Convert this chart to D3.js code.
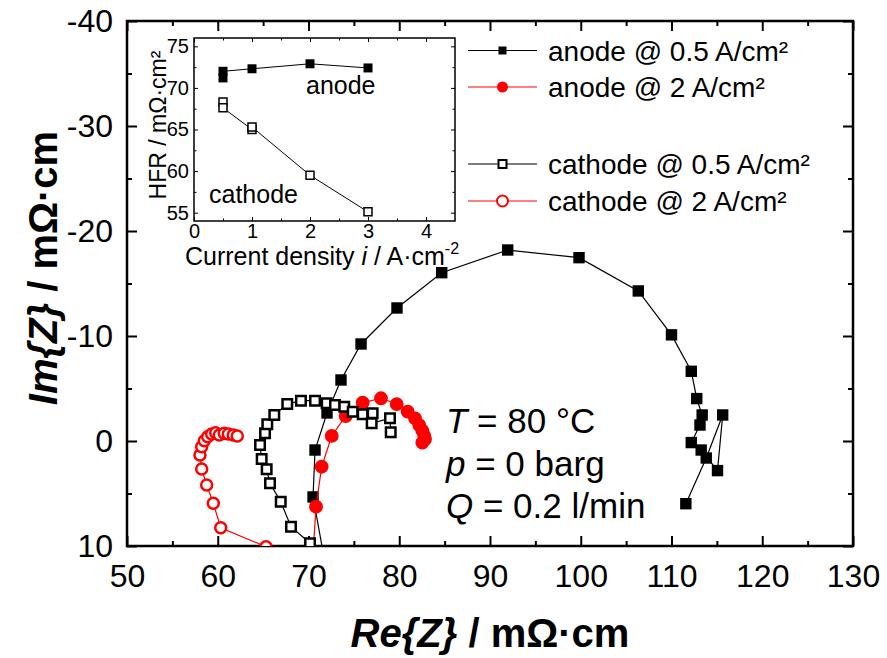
<!DOCTYPE html>
<html lang="en">
<head>
<meta charset="UTF-8">
<title>Impedance spectra</title>
<script src="https://cdn.jsdelivr.net/npm/d3@7/dist/d3.min.js"></script>
<style>
  body { margin: 0; background: #fff; }
  svg text { font-family: "Liberation Sans", Arial, sans-serif; fill: #000; }
</style>
</head>
<body>
<div id="chart"></div>
<script>
// Nyquist data, [Re, Im] in mOhm*cm (Im axis runs -40 at the top to 10 at the bottom)
const anode05 = [
  [71.8, 11.5], [70.5, 5.33], [70.72, 0.86], [72.04, -2.67], [73.58, -5.81], [75.79, -9.24],
  [79.75, -12.67], [84.68, -16.03], [91.95, -18.19], [99.81, -17.46], [106.34, -14.29],
  [110.0, -10.11], [112.18, -6.64], [112.78, -4.04], [113.38, -2.48], [113.14, -1.52],
  [112.18, 0.15], [113.27, 0.86], [115.07, 2.82], [115.64, -2.48], [113.83, 1.62], [111.58, 5.97]
];
const anode2 = [
  [70.4, 12], [70.83, 6.26], [71.45, 2.45], [72.56, -0.48], [74.1, -2.38], [75.97, -3.65],
  [77.99, -4.07], [79.72, -3.52], [80.93, -2.79], [81.74, -2.16], [82.21, -1.52],
  [82.54, -0.98], [82.76, -0.48], [82.84, -0.16], [82.54, 0.16]
];
const cathode05 = [
  [70.17, 9.74], [68.07, 8.16], [66.94, 5.78], [65.76, 4.03], [65.39, 2.70], [64.84, 1.71],
  [64.66, 0.38], [65.21, -0.73], [65.46, -1.59], [66.23, -2.48], [67.66, -3.52], [69.17, -3.84],
  [70.72, -3.84], [72.0, -3.59], [72.92, -3.43], [73.94, -3.27], [74.87, -2.79], [75.97, -2.54],
  [77.07, -2.64], [76.96, -1.69], [78.98, -2.16], [79.06, -0.83]
];
const cathode2 = [
  [65.32, 10.07], [60.33, 8.26], [59.51, 5.93], [58.78, 4.19], [58.23, 2.67], [58.04, 1.33],
  [58.23, 0.54], [58.52, -0.03], [58.89, -0.41], [59.33, -0.67], [59.77, -0.79], [60.17, -0.57],
  [60.72, -0.73], [61.16, -0.67], [61.71, -0.57], [62.15, -0.48]
];

// inset: HFR vs current density
const hfrAnode = [[0.5, 71.2], [0.5, 72.0], [1, 72.3], [2, 72.9], [3, 72.4]];
const hfrCathode = [[0.5, 68.3], [0.5, 67.6], [1, 65.0], [1, 65.3], [2, 59.5], [3, 55.1]];

const xTicks = [50, 60, 70, 80, 90, 100, 110, 120, 130];
const yTicks = [-40, -30, -20, -10, 0, 10];
const insetXTicks = [0, 1, 2, 3, 4];
const insetYTicks = [55, 60, 65, 70, 75];

const legendLabels = ["anode @ 0.5 A/cm²", "anode @ 2 A/cm²", "cathode @ 0.5 A/cm²", "cathode @ 2 A/cm²"];
const condText = [["T", " = 80 °C"], ["p", " = 0 barg"], ["Q", " = 0.2 l/min"]];

const width = 887, height = 658;
const L = 127, R = 853, T = 21, B = 546;
const plain = d => String(d);   // hyphen minus like the original, no unicode minus

const svg = d3.select("#chart").append("svg")
    .attr("width", width)
    .attr("height", height);

const x = d3.scaleLinear([50, 130], [L, R]);
const y = d3.scaleLinear([10, -40], [B, T]);

svg.append("clipPath").attr("id", "plotclip")
  .append("rect").attr("x", L).attr("y", T).attr("width", R - L).attr("height", B - T);

// axes, ticks pointing inward
function minor(ticks, step) {
  const out = [];
  for (let i = 0; i < ticks.length - 1; i++) out.push(ticks[i] + step);
  return out;
}
const xMinor = minor(xTicks, 5);
const yMinor = minor(yTicks, 5);

function addAxis(g, axis) {
  g.call(axis);
  g.select(".domain").remove();
  g.selectAll(".tick line").attr("stroke", "#000").attr("stroke-width", 2);
  return g;
}

addAxis(svg.append("g").attr("transform", `translate(0,${B})`),
  d3.axisBottom(x).tickValues(xTicks).tickSize(-10).tickPadding(18).tickFormat(plain))
  .selectAll("text").attr("font-size", 32);
addAxis(svg.append("g").attr("transform", `translate(0,${B})`),
  d3.axisBottom(x).tickValues(xMinor).tickSize(-5).tickFormat(""));
addAxis(svg.append("g").attr("transform", `translate(0,${T})`),
  d3.axisTop(x).tickValues(xTicks).tickSize(-10).tickFormat(""));
addAxis(svg.append("g").attr("transform", `translate(0,${T})`),
  d3.axisTop(x).tickValues(xMinor).tickSize(-5).tickFormat(""));

addAxis(svg.append("g").attr("transform", `translate(${L},0)`),
  d3.axisLeft(y).tickValues(yTicks).tickSize(-10).tickPadding(14).tickFormat(plain))
  .selectAll("text").attr("font-size", 32);
addAxis(svg.append("g").attr("transform", `translate(${L},0)`),
  d3.axisLeft(y).tickValues(yMinor).tickSize(-5).tickFormat(""));
addAxis(svg.append("g").attr("transform", `translate(${R},0)`),
  d3.axisRight(y).tickValues(yTicks).tickSize(-10).tickFormat(""));
addAxis(svg.append("g").attr("transform", `translate(${R},0)`),
  d3.axisRight(y).tickValues(yMinor).tickSize(-5).tickFormat(""));

svg.append("rect")
  .attr("x", L).attr("y", T).attr("width", R - L).attr("height", B - T)
  .attr("fill", "none").attr("stroke", "#000").attr("stroke-width", 2.5);

// axis titles
const xt = svg.append("text")
  .attr("x", 490).attr("y", 647)
  .attr("text-anchor", "middle")
  .attr("font-size", 40).attr("font-weight", "bold");
xt.append("tspan").attr("font-style", "italic").text("Re{Z}");
xt.append("tspan").text(" / mΩ·cm");

const yt = svg.append("text")
  .attr("transform", "translate(57,268) rotate(-90)")
  .attr("text-anchor", "middle")
  .attr("font-size", 40).attr("font-weight", "bold");
yt.append("tspan").attr("font-style", "italic").text("Im{Z}");
yt.append("tspan").text(" / mΩ·cm");

// series
const series = [
  { data: anode05, color: "#000", shape: d3.symbolSquare, size: 130, filled: true },
  { data: anode2, color: "#ff0000", shape: d3.symbolCircle, size: 150, filled: true },
  { data: cathode05, color: "#000", shape: d3.symbolSquare, size: 90, filled: false },
  { data: cathode2, color: "#ff0000", shape: d3.symbolCircle, size: 95, filled: false }
];

const line = d3.line().x(d => x(d[0])).y(d => y(d[1]));
const plot = svg.append("g").attr("clip-path", "url(#plotclip)");

series.forEach(s => {
  plot.append("path")
    .attr("d", line(s.data))
    .attr("fill", "none")
    .attr("stroke", s.color)
    .attr("stroke-width", 1.2);
  plot.append("g").selectAll("path")
    .data(s.data)
    .join("path")
    .attr("transform", d => `translate(${x(d[0])},${y(d[1])})`)
    .attr("d", d3.symbol(s.shape, s.size))
    .attr("fill", s.filled ? s.color : "#fff")
    .attr("stroke", s.color)
    .attr("stroke-width", s.filled ? 0 : 2.5);
});

// legend
const legendY = [50.5, 87, 164, 201];
const legend = svg.append("g");
series.forEach((s, i) => {
  const g = legend.append("g").attr("transform", `translate(0,${legendY[i]})`);
  g.append("line").attr("x1", 468).attr("x2", 537)
    .attr("stroke", s.color).attr("stroke-width", 1.2);
  g.append("path")
    .attr("transform", "translate(502.5,0)")
    .attr("d", d3.symbol(s.shape, s.shape === d3.symbolSquare ? 64 : 95))
    .attr("fill", s.filled ? s.color : "#fff")
    .attr("stroke", s.color)
    .attr("stroke-width", s.filled ? 0 : 2);
  g.append("text").attr("x", 548).attr("y", 10)
    .attr("font-size", 28).text(legendLabels[i]);
});

// operating conditions
const condY = [433, 476, 518];
condText.forEach((c, i) => {
  const t = svg.append("text").attr("x", 446).attr("y", condY[i]).attr("font-size", 35);
  t.append("tspan").attr("font-style", "italic").text(c[0]);
  t.append("tspan").text(c[1]);
});

// inset
const IL = 194, IR = 455, IT = 38, IB = 221;
const ix = d3.scaleLinear([0, 4.5], [IL, IR]);
const iy = d3.scaleLinear([54, 76], [IB, IT]);
const inset = svg.append("g");

inset.append("rect")
  .attr("x", IL).attr("y", IT).attr("width", IR - IL).attr("height", IB - IT)
  .attr("fill", "#fff");

const ixMinor = [0.5, 1.5, 2.5, 3.5];
const iyMinor = [57.5, 62.5, 67.5, 72.5];

function smallAxis(g, axis) {
  g.call(axis);
  g.select(".domain").remove();
  g.selectAll(".tick line").attr("stroke", "#000").attr("stroke-width", 1);
  g.selectAll("text").attr("font-size", 20);
  return g;
}
smallAxis(inset.append("g").attr("transform", `translate(0,${IB})`),
  d3.axisBottom(ix).tickValues(insetXTicks).tickSize(-4).tickPadding(3).tickFormat(plain));
smallAxis(inset.append("g").attr("transform", `translate(0,${IB})`),
  d3.axisBottom(ix).tickValues(ixMinor).tickSize(-2.5).tickFormat(""));
smallAxis(inset.append("g").attr("transform", `translate(0,${IT})`),
  d3.axisTop(ix).tickValues(insetXTicks).tickSize(-4).tickFormat(""));
smallAxis(inset.append("g").attr("transform", `translate(0,${IT})`),
  d3.axisTop(ix).tickValues(ixMinor).tickSize(-2.5).tickFormat(""));
smallAxis(inset.append("g").attr("transform", `translate(${IL},0)`),
  d3.axisLeft(iy).tickValues(insetYTicks).tickSize(-4).tickPadding(5).tickFormat(plain));
smallAxis(inset.append("g").attr("transform", `translate(${IL},0)`),
  d3.axisLeft(iy).tickValues(iyMinor).tickSize(-2.5).tickFormat(""));
smallAxis(inset.append("g").attr("transform", `translate(${IR},0)`),
  d3.axisRight(iy).tickValues(insetYTicks).tickSize(-4).tickFormat(""));
smallAxis(inset.append("g").attr("transform", `translate(${IR},0)`),
  d3.axisRight(iy).tickValues(iyMinor).tickSize(-2.5).tickFormat(""));

inset.append("rect")
  .attr("x", IL).attr("y", IT).attr("width", IR - IL).attr("height", IB - IT)
  .attr("fill", "none").attr("stroke", "#000").attr("stroke-width", 1.5);

const iline = d3.line().x(d => ix(d[0])).y(d => iy(d[1]));
[[hfrAnode, true], [hfrCathode, false]].forEach(([data, filled]) => {
  inset.append("path").attr("d", iline(data))
    .attr("fill", "none").attr("stroke", "#000").attr("stroke-width", 1);
  inset.append("g").selectAll("path")
    .data(data)
    .join("path")
    .attr("transform", d => `translate(${ix(d[0])},${iy(d[1])})`)
    .attr("d", d3.symbol(d3.symbolSquare, filled ? 81 : 64))
    .attr("fill", filled ? "#000" : "#fff")
    .attr("stroke", "#000")
    .attr("stroke-width", filled ? 0 : 1.5);
});

inset.append("text").attr("x", 306).attr("y", 94).attr("font-size", 25).text("anode");
inset.append("text").attr("x", 209).attr("y", 203).attr("font-size", 25).text("cathode");

const ixt = inset.append("text").attr("x", 185).attr("y", 265).attr("font-size", 25);
ixt.append("tspan").text("Current density ");
ixt.append("tspan").attr("font-style", "italic").text("i");
ixt.append("tspan").text(" / A·cm");
ixt.append("tspan").attr("font-size", 16).attr("dy", -11).text("-2");

inset.append("text")
  .attr("transform", "translate(166,125) rotate(-90)")
  .attr("text-anchor", "middle")
  .attr("font-size", 23)
  .text("HFR / mΩ·cm²");
</script>
</body>
</html>
